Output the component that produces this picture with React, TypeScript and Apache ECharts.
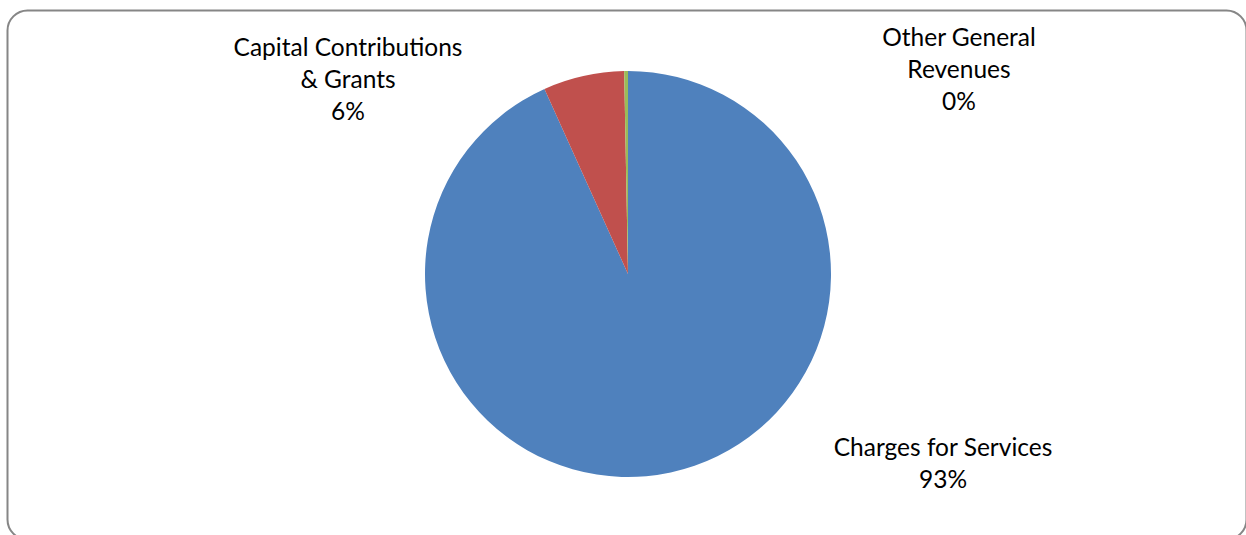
import React, { useEffect, useRef } from "react";
import * as echarts from "echarts";

const categories = ["Charges for Services", "Capital Contributions\n& Grants", "Other General\nRevenues"];
const values = [93.25, 6.45, 0.3];
const colors = ["#4F81BD", "#C0504D", "#9BBB59"];
const labelPos: [number, number][] = [
  [943, 462],
  [348, 78],
  [959, 68],
];

export default function App() {
  const ref = useRef<HTMLDivElement>(null);
  useEffect(() => {
    const chart = echarts.init(ref.current!, undefined, { renderer: "svg" });
    chart.setOption({
      animation: false,
      backgroundColor: "#ffffff",
      graphic: [
        {
          type: "rect",
          left: 5,
          top: 8,
          shape: { width: 1239, height: 529, r: 20 },
          style: { fill: "none", stroke: "#868686", lineWidth: 2 },
          silent: true,
        },
      ],
      series: [
        {
          type: "pie",
          center: [628, 274],
          radius: 203,
          startAngle: 90,
          clockwise: true,
          percentPrecision: 2,
          data: categories.map((c, i) => ({ name: c, value: values[i], itemStyle: { color: colors[i] } })),
          label: {
            show: true,
            position: "outside",
            formatter: (p: any) => `${p.name}\n${Math.round(p.percent)}%`,
            fontFamily: "Lato",
            fontSize: 24.5,
            lineHeight: 32,
            color: "#000000",
            align: "center",
          },
          labelLine: { show: false },
          labelLayout: (p: any) => ({
            x: labelPos[p.dataIndex][0],
            y: labelPos[p.dataIndex][1],
            align: "center",
            verticalAlign: "middle",
          }),
          emphasis: { disabled: true },
        },
      ],
    });
    return () => chart.dispose();
  }, []);
  return (
    <div
      ref={ref}
      style={{ position: "fixed", left: 0, top: 0, width: 1246, height: 535 }}
    />
  );
}
